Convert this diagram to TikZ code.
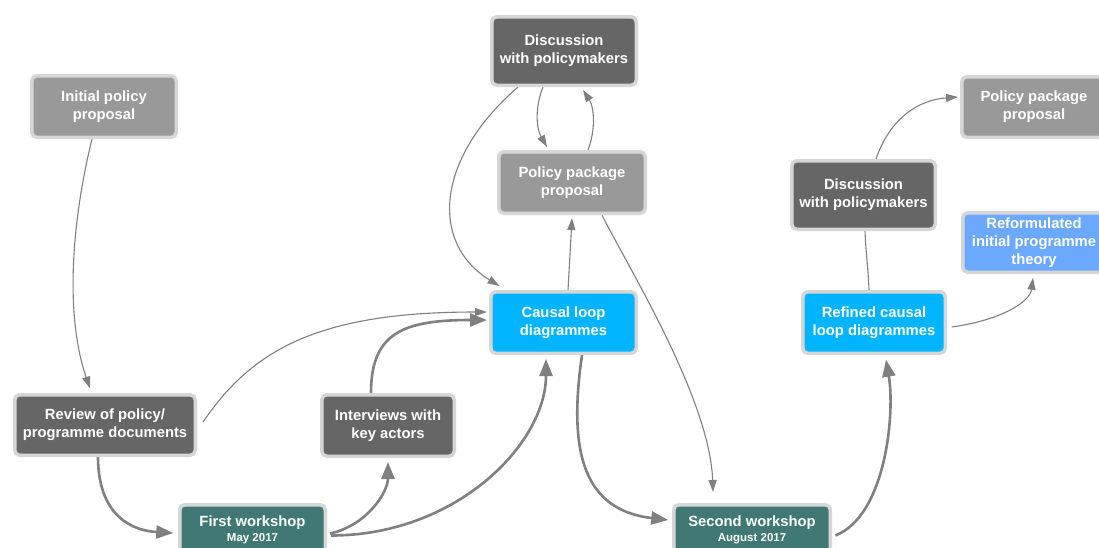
\documentclass[tikz,border=0pt]{standalone}
\usepackage{fontspec}
\setmainfont{Liberation Sans}
\usetikzlibrary{arrows.meta,calc}
\pgfdeclarelayer{background}
\pgfsetlayers{background,main}
\definecolor{gdark}{HTML}{666666}
\definecolor{gmid}{HTML}{999999}
\definecolor{bordc}{HTML}{D6D6D6}
\definecolor{cyanbox}{HTML}{00B4FF}
\definecolor{lblue}{HTML}{6AA9FF}
\definecolor{tealbox}{HTML}{3F7874}
\definecolor{arrc}{HTML}{808080}
\begin{document}
\begin{tikzpicture}[x=1pt,y=-1pt,
  box/.style={draw=bordc, line width=3.5pt, rounded corners=5pt, text=white,
    font=\fontsize{14.8}{18}\selectfont\bfseries, align=center, inner sep=0pt},
  thinar/.style={draw=arrc, line width=1.1pt, -{Triangle[length=12pt,width=8pt]}},
  thickar/.style={draw=arrc, line width=2.6pt, -{Triangle[length=17pt,width=13pt]}},
  plainline/.style={draw=arrc, line width=1.1pt}
]
\useasboundingbox (0,0) rectangle (1099,547);
\clip (0,0) rectangle (1099,547);

\node[box, fill=gmid, minimum width=144.5pt, minimum height=61.5pt] (init) at (104,106.5) {Initial policy\\proposal};
\node[box, fill=gdark, minimum width=144.5pt, minimum height=68.5pt] (disc1) at (564,51) {Discussion\\with policymakers};
\node[box, fill=gmid, minimum width=146.5pt, minimum height=61.5pt] (pol1) at (572,182.5) {Policy package\\proposal};
\node[box, fill=cyanbox, minimum width=145.5pt, minimum height=61.5pt] (causal) at (563.5,322.5) {Causal loop\\diagrammes};
\node[box, fill=gdark, minimum width=180.5pt, minimum height=60.5pt] (review) at (105,425) {Review of policy/\\programme documents};
\node[box, fill=gdark, minimum width=132.5pt, minimum height=61.5pt] (interv) at (388,425.5) {Interviews with\\key actors};
\node[box, fill=tealbox, minimum width=145.5pt, minimum height=50.5pt] (first) at (252.5,530) {First workshop\\[-3pt]{\fontsize{11.5}{13}\selectfont May 2017}};
\node[box, fill=tealbox, minimum width=156.5pt, minimum height=50.5pt] (second) at (752,530) {Second workshop\\[-3pt]{\fontsize{11.5}{13}\selectfont August 2017}};
\node[box, fill=cyanbox, minimum width=142.5pt, minimum height=61.5pt] (refined) at (874,322.5) {Refined causal\\loop diagrammes};
\node[box, fill=gdark, minimum width=143.5pt, minimum height=68.5pt] (disc2) at (863.5,195) {Discussion\\with policymakers};
\node[box, fill=gmid, minimum width=144.5pt, minimum height=60.5pt] (pol2) at (1034,107) {Policy package\\proposal};
\node[box, fill=lblue, minimum width=142.5pt, minimum height=59.5pt] (reform) at (1034,242.5) {Reformulated\\initial programme\\theory};

\begin{pgfonlayer}{background}
\fill[white] (0,0) rectangle (1099,547);
\draw[thinar] ($(init.south)+(-12,0)$) .. controls +(-22,90) and +(-24,-70) .. ($(review.north)+(-15,-4.5)$);
\draw[thinar] ($(disc1.south)+(-46,0)$) .. controls +(-83,72) and +(-69.5,-42.75) .. ($(causal.north)+(-64,-4)$);
\draw[thinar] ($(disc1.south)+(-21,0)$) .. controls +(-8,20) and +(-11,-19) .. ($(pol1.north)+(-25,-3)$);
\draw[thinar] ($(pol1.north)+(16,0)$) .. controls +(8,-21) and +(11,17) .. ($(disc1.south)+(19,3)$);
\draw[thinar] ($(causal.north)+(4.5,0)$) -- ($(pol1.south)+(0,3)$);
\draw[thinar] ($(pol1.south)+(30,0)$) .. controls +(23,47) and +(-3,-94) .. ($(second.north)+(-39,-11)$);
\draw[thinar] ($(review.east)+(6,-3)$) .. controls +(49,-72) and +(-169,0) .. ($(causal.west)+(-2,-10.5)$);
\draw[thickar] ($(interv.north)+(-17,0)$) .. controls +(0,-60) and +(-84,0) .. ($(causal.west)+(-2,-2.5)$);
\draw[thickar] ($(first.east)+(3,3.5)$) .. controls +(37,-8) and +(0,30) .. ($(interv.south)+(0,4)$);
\draw[thickar] ($(first.east)+(4,5.5)$) .. controls +(125,0) and +(0,85) .. ($(causal.south)+(-17.5,4)$);
\draw[thickar] ($(review.south)+(-7,0)$) .. controls +(0,50) and +(-50,-3) .. ($(first.west)+(-4.75,3)$);
\draw[thickar] ($(causal.south)+(18.5,0)$) .. controls +(-14,97) and +(-85,-10) .. ($(second.west)+(-3.75,-10)$);
\draw[thickar] ($(second.east)+(3.5,5.5)$) .. controls +(51,-20.5) and +(9,52) .. ($(refined.south)+(12,4.75)$);
\draw[plainline] ($(disc2.south)+(1.5,0)$) .. controls +(1,25) and +(-1,-25) .. ($(refined.north)+(-5,0)$);
\draw[thinar] ($(disc2.north)+(12.5,0)$) .. controls +(14,-40.75) and +(-39.75,3) .. ($(pol2.west)+(-2,-10)$);
\draw[thinar] ($(refined.east)+(4.75,4.5)$) .. controls +(50,-7) and +(-3,24) .. ($(reform.south)+(-1,3.75)$);
\end{pgfonlayer}
\end{tikzpicture}
\end{document}
